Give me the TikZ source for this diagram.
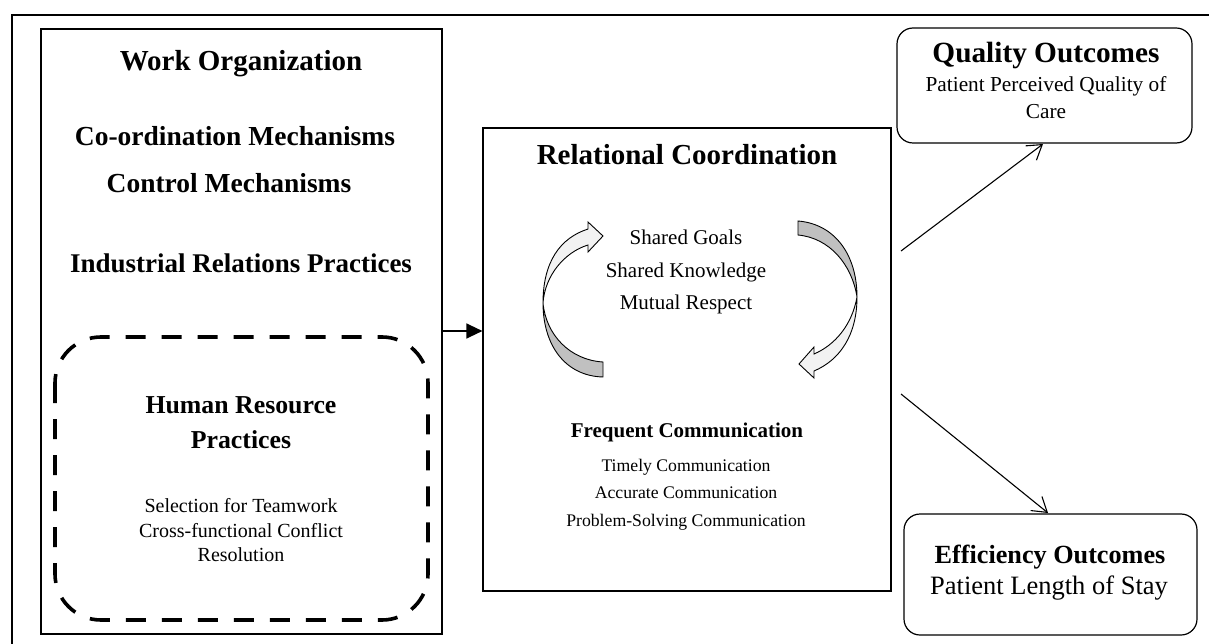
\documentclass[tikz,border=0pt]{standalone}
\usepackage{fontspec}
\setmainfont{Liberation Serif}
\usetikzlibrary{arrows.meta}
\definecolor{lightface}{RGB}{242,242,242}
\definecolor{darkface}{RGB}{192,192,192}
\tikzset{
  frame/.style={draw, line width=1.2pt},
  rbox/.style={draw, line width=1.2pt, rounded corners=16pt},
  txt/.style={inner sep=0pt, anchor=center, text height=0.72em, text depth=0.22em},
  link/.style={line width=1.1pt, -{Straight Barb[length=14pt,width=18pt,line width=1.1pt]}},
  feed/.style={line width=1.3pt, -{Triangle[length=16pt,width=15pt]}},
  ribbon/.style={draw, line width=0.9pt, line join=miter}
}
\newcommand{\fs}[1]{\fontsize{#1pt}{#1pt}\selectfont}
\begin{document}
\begin{tikzpicture}[x=1pt,y=-1pt]
\useasboundingbox (0,0) rectangle (1209,644);
% outer frame
\draw[line width=1.6pt] (12,644) -- (12,15) -- (1209,15);
% main boxes
\node[frame, minimum width=401pt, minimum height=605pt, inner sep=0pt] (work) at (241.5,331.5) {};
\node[frame, minimum width=408pt, minimum height=463pt, inner sep=0pt] (rc) at (687,359.5) {};
\node[rbox, minimum width=295pt, minimum height=115pt, inner sep=0pt] (qual) at (1044.5,85.5) {};
\node[rbox, minimum width=293pt, minimum height=121pt, inner sep=0pt] (eff) at (1050.5,574.5) {};
% dashed HR box
\draw[line width=3.6pt, dash pattern=on 20pt off 16pt, rounded corners=46pt] (55,337) rectangle (428,620);
% texts left
\node[txt, font=\bfseries\fs{29}] (t1) at (241,68) {Work Organization};
\node[txt, font=\bfseries\fs{27.5}] (t2) at (235,143) {Co-ordination Mechanisms};
\node[txt, font=\bfseries\fs{27.5}] (t3) at (229,190) {Control Mechanisms};
\node[txt, font=\bfseries\fs{27}] (t4) at (241,270) {Industrial Relations Practices};
\node[txt, font=\bfseries\fs{25.8}] (t5) at (241,411) {Human Resource};
\node[txt, font=\bfseries\fs{25.8}] (t6) at (241,446) {Practices};
\node[txt, font=\fs{20}] (t7) at (241,510) {Selection for Teamwork};
\node[txt, font=\fs{20}] (t8) at (241,535) {Cross-functional Conflict};
\node[txt, font=\fs{20}] (t9) at (241,559) {Resolution};
% texts RC
\node[txt, font=\bfseries\fs{29}] (r1) at (687,162) {Relational Coordination};
\node[txt, font=\fs{21}] (r2) at (686,242) {Shared Goals};
\node[txt, font=\fs{21}] (r3) at (686,275) {Shared Knowledge};
\node[txt, font=\fs{21}] (r4) at (686,307) {Mutual Respect};
\node[txt, font=\bfseries\fs{21}] (r5) at (687,435) {Frequent Communication};
\node[txt, font=\fs{17.7}] (r6) at (686,469) {Timely Communication};
\node[txt, font=\fs{17.7}] (r7) at (686,496) {Accurate Communication};
\node[txt, font=\fs{17.7}] (r8) at (686,524) {Problem-Solving Communication};
% texts outcomes
\node[txt, font=\bfseries\fs{29.3}] (q1) at (1046,60) {Quality Outcomes};
\node[txt, font=\fs{21.3}] (q2) at (1046,89) {Patient Perceived Quality of};
\node[txt, font=\fs{21.3}] (q3) at (1046,116) {Care};
\node[txt, font=\bfseries\fs{26.2}] (e1) at (1050,561) {Efficiency Outcomes};
\node[txt, font=\fs{26.5}] (e2) at (1049,592) {Patient Length of Stay};
% connectors
\coordinate (s1) at (901,251);
\coordinate (q0) at (1043,144);
\coordinate (s2) at (901,394);
\coordinate (e0) at (1048,513);
\draw[feed] (work.east |- 0,331) -- (rc.west |- 0,331);
\draw[link] (s1) -- (q0);
\draw[link] (s2) -- (e0);
% left curved arrow
\draw[ribbon, fill=darkface] (603,362) -- (603,377) .. controls (565,376) and (543,345) .. (543,303) .. controls (546,335) and (570,360) .. (603,362) -- cycle;
\draw[ribbon, fill=lightface] (543,303) .. controls (543,262) and (560,238) .. (588,229) -- (588,222) -- (603,236) -- (588,252) -- (588,245) .. controls (565,252) and (545,275) .. (543,303) -- cycle;
% right curved arrow
\draw[ribbon, fill=darkface] (798,221) .. controls (835,224) and (857,255) .. (857,297) .. controls (852,265) and (830,238) .. (798,235) -- cycle;
\draw[ribbon, fill=lightface] (857,297) .. controls (857,335) and (840,360) .. (814,371) -- (814,378) -- (799,364) -- (814,347) -- (814,354) .. controls (835,345) and (852,325) .. (857,297) -- cycle;
\end{tikzpicture}
\end{document}
